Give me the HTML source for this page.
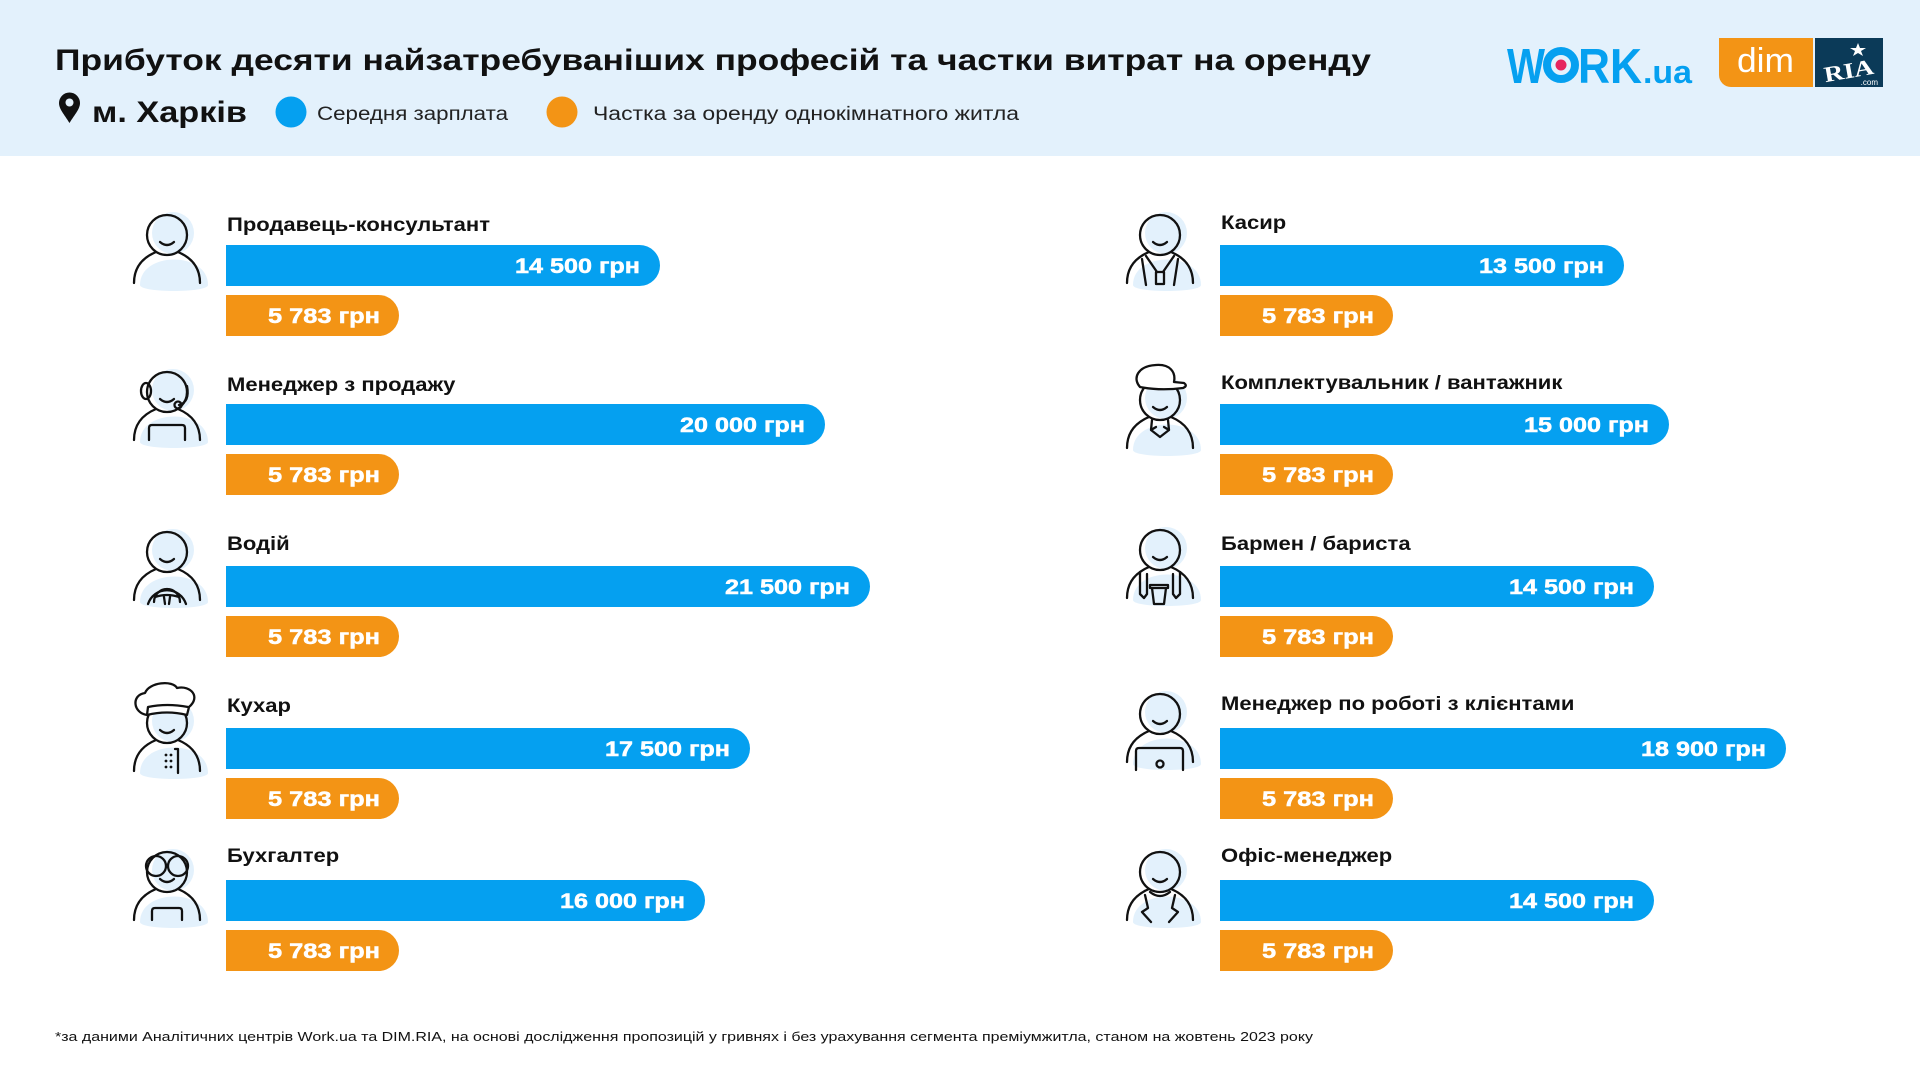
<!DOCTYPE html>
<html><head><meta charset="utf-8"><style>
html,body{margin:0;padding:0;background:#fff;}
svg{display:block;}
text{font-family:"Liberation Sans","Noto Sans CJK SC",sans-serif;}
</style></head><body>
<svg width="1920" height="1080" viewBox="0 0 1920 1080" xmlns="http://www.w3.org/2000/svg">
<defs>
<g id="pb">
 <circle cx="6" cy="-2" r="21" fill="#E3F1FC"/>
 <path d="M-27,50 C-27,16 41,16 41,50 C41,58 -27,58 -27,50Z" fill="#E3F1FC"/>
 <g fill="none" stroke="#111" stroke-width="2.3" stroke-linecap="round" stroke-linejoin="round">
  <circle r="20"/>
  <path d="M-7,7 Q0,13 7,7"/>
  <path d="M-33,48 C-33,31 -23,22 -11,17 M33,48 C33,31 23,22 11,17"/>
 </g>
</g>
</defs>
<rect x="0" y="0" width="1920" height="156" fill="#E3F1FC"/>
<text x="55" y="70" font-size="30" font-weight="bold" fill="#111" textLength="1316" lengthAdjust="spacingAndGlyphs">Прибуток десяти найзатребуваніших професій та частки витрат на оренду</text>
<path d="M69.5,123 C64,114 59,109 59,103 A10.5,10.5 0 0 1 80,103 C80,109 75,114 69.5,123Z" fill="#111"/>
<circle cx="69.5" cy="102.5" r="4" fill="#E3F1FC"/>
<text x="92" y="122" font-size="30" font-weight="bold" fill="#111" textLength="155" lengthAdjust="spacingAndGlyphs">м. Харків</text>
<circle cx="291" cy="112" r="15.5" fill="#05A0F0"/>
<text x="317" y="120" font-size="19" fill="#222" textLength="191" lengthAdjust="spacingAndGlyphs">Середня зарплата</text>
<circle cx="562" cy="112" r="15.5" fill="#F39415"/>
<text x="593" y="120" font-size="19" fill="#222" textLength="426" lengthAdjust="spacingAndGlyphs">Частка за оренду однокімнатного житла</text>
<!-- logos -->
<text x="1507" y="83" font-size="49" font-weight="bold" fill="#05A0F0" textLength="38" lengthAdjust="spacingAndGlyphs">W</text>
<circle cx="1561" cy="65" r="14" fill="none" stroke="#05A0F0" stroke-width="8"/>
<circle cx="1561" cy="65" r="5.5" fill="#E6245E"/>
<text x="1578" y="83" font-size="49" font-weight="bold" fill="#05A0F0" textLength="64" lengthAdjust="spacingAndGlyphs">RK</text>
<text x="1643" y="83" font-size="32" font-weight="bold" fill="#05A0F0" textLength="49" lengthAdjust="spacingAndGlyphs">.ua</text>
<path d="M1719,38 H1813 V87 H1731 A12,12 0 0 1 1719,75 Z" fill="#F39415"/>
<text x="1737" y="72" font-size="34" fill="#fff" textLength="57" lengthAdjust="spacingAndGlyphs">dim</text>
<rect x="1815" y="38" width="68" height="49" fill="#0B3A58"/>
<text x="1849" y="78" font-size="22" font-weight="bold" fill="#fff" text-anchor="middle" style="font-family:'Liberation Serif',serif" transform="rotate(-10 1849 72)" textLength="50" lengthAdjust="spacingAndGlyphs">RIA</text>
<polygon points="1858,43 1860,48 1866,48 1861,51 1863,56 1858,53 1853,56 1855,51 1850,48 1856,48" fill="#fff"/>
<text x="1878" y="85" font-size="8" fill="#fff" text-anchor="end">.com</text>

<!-- bars left -->
<g>
<path d="M226,245 H639.5 A20.5,20.5 0 0 1 639.5,286 H226Z" fill="#05A0F0"/>
<path d="M226,295 H378.5 A20.5,20.5 0 0 1 378.5,336 H226Z" fill="#F39415"/>
<path d="M226,404 H804.5 A20.5,20.5 0 0 1 804.5,445 H226Z" fill="#05A0F0"/>
<path d="M226,454 H378.5 A20.5,20.5 0 0 1 378.5,495 H226Z" fill="#F39415"/>
<path d="M226,566 H849.5 A20.5,20.5 0 0 1 849.5,607 H226Z" fill="#05A0F0"/>
<path d="M226,616 H378.5 A20.5,20.5 0 0 1 378.5,657 H226Z" fill="#F39415"/>
<path d="M226,728 H729.5 A20.5,20.5 0 0 1 729.5,769 H226Z" fill="#05A0F0"/>
<path d="M226,778 H378.5 A20.5,20.5 0 0 1 378.5,819 H226Z" fill="#F39415"/>
<path d="M226,880 H684.5 A20.5,20.5 0 0 1 684.5,921 H226Z" fill="#05A0F0"/>
<path d="M226,930 H378.5 A20.5,20.5 0 0 1 378.5,971 H226Z" fill="#F39415"/>
</g>
<!-- bars right -->
<g>
<path d="M1220,245 H1603.5 A20.5,20.5 0 0 1 1603.5,286 H1220Z" fill="#05A0F0"/>
<path d="M1220,295 H1372.5 A20.5,20.5 0 0 1 1372.5,336 H1220Z" fill="#F39415"/>
<path d="M1220,404 H1648.5 A20.5,20.5 0 0 1 1648.5,445 H1220Z" fill="#05A0F0"/>
<path d="M1220,454 H1372.5 A20.5,20.5 0 0 1 1372.5,495 H1220Z" fill="#F39415"/>
<path d="M1220,566 H1633.5 A20.5,20.5 0 0 1 1633.5,607 H1220Z" fill="#05A0F0"/>
<path d="M1220,616 H1372.5 A20.5,20.5 0 0 1 1372.5,657 H1220Z" fill="#F39415"/>
<path d="M1220,728 H1765.5 A20.5,20.5 0 0 1 1765.5,769 H1220Z" fill="#05A0F0"/>
<path d="M1220,778 H1372.5 A20.5,20.5 0 0 1 1372.5,819 H1220Z" fill="#F39415"/>
<path d="M1220,880 H1633.5 A20.5,20.5 0 0 1 1633.5,921 H1220Z" fill="#05A0F0"/>
<path d="M1220,930 H1372.5 A20.5,20.5 0 0 1 1372.5,971 H1220Z" fill="#F39415"/>
</g>

<!-- bar values -->
<g font-size="21" font-weight="bold" fill="#fff" stroke="#fff" stroke-width="0.5" text-anchor="end">
<text x="640" y="273" textLength="125" lengthAdjust="spacingAndGlyphs">14 500 грн</text>
<text x="380" y="323" textLength="112" lengthAdjust="spacingAndGlyphs">5 783 грн</text>
<text x="805" y="432" textLength="125" lengthAdjust="spacingAndGlyphs">20 000 грн</text>
<text x="380" y="482" textLength="112" lengthAdjust="spacingAndGlyphs">5 783 грн</text>
<text x="850" y="594" textLength="125" lengthAdjust="spacingAndGlyphs">21 500 грн</text>
<text x="380" y="644" textLength="112" lengthAdjust="spacingAndGlyphs">5 783 грн</text>
<text x="730" y="756" textLength="125" lengthAdjust="spacingAndGlyphs">17 500 грн</text>
<text x="380" y="806" textLength="112" lengthAdjust="spacingAndGlyphs">5 783 грн</text>
<text x="685" y="908" textLength="125" lengthAdjust="spacingAndGlyphs">16 000 грн</text>
<text x="380" y="958" textLength="112" lengthAdjust="spacingAndGlyphs">5 783 грн</text>

<text x="1604" y="273" textLength="125" lengthAdjust="spacingAndGlyphs">13 500 грн</text>
<text x="1374" y="323" textLength="112" lengthAdjust="spacingAndGlyphs">5 783 грн</text>
<text x="1649" y="432" textLength="125" lengthAdjust="spacingAndGlyphs">15 000 грн</text>
<text x="1374" y="482" textLength="112" lengthAdjust="spacingAndGlyphs">5 783 грн</text>
<text x="1634" y="594" textLength="125" lengthAdjust="spacingAndGlyphs">14 500 грн</text>
<text x="1374" y="644" textLength="112" lengthAdjust="spacingAndGlyphs">5 783 грн</text>
<text x="1766" y="756" textLength="125" lengthAdjust="spacingAndGlyphs">18 900 грн</text>
<text x="1374" y="806" textLength="112" lengthAdjust="spacingAndGlyphs">5 783 грн</text>
<text x="1634" y="908" textLength="125" lengthAdjust="spacingAndGlyphs">14 500 грн</text>
<text x="1374" y="958" textLength="112" lengthAdjust="spacingAndGlyphs">5 783 грн</text>
</g>

<!-- labels -->
<g font-size="19" font-weight="bold" fill="#111">
<text transform="translate(227,231) scale(1.16,1)">Продавець-консультант</text>
<text transform="translate(227,391) scale(1.16,1)">Менеджер з продажу</text>
<text transform="translate(227,550) scale(1.16,1)">Водій</text>
<text transform="translate(227,712) scale(1.16,1)">Кухар</text>
<text transform="translate(227,862) scale(1.16,1)">Бухгалтер</text>
<text transform="translate(1221,229) scale(1.16,1)">Касир</text>
<text transform="translate(1221,389) scale(1.16,1)">Комплектувальник / вантажник</text>
<text transform="translate(1221,550) scale(1.16,1)">Бармен / бариста</text>
<text transform="translate(1221,710) scale(1.16,1)">Менеджер по роботі з клієнтами</text>
<text transform="translate(1221,862) scale(1.16,1)">Офіс-менеджер</text>
</g>

<!-- icons left -->
<g transform="translate(167,235)"><use href="#pb"/></g>

<g transform="translate(167,392)"><use href="#pb"/>
 <g fill="none" stroke="#111" stroke-width="2.3" stroke-linecap="round" stroke-linejoin="round">
  <ellipse cx="-21" cy="-1" rx="5" ry="8"/>
  <path d="M20,-6 Q23,10 12,13"/>
  <circle cx="11" cy="13" r="3.5"/>
  <path d="M-18,48 V36 Q-18,33 -15,33 H15 Q18,33 18,36 V48"/>
 </g>
</g>

<g transform="translate(167,552)"><use href="#pb"/>
 <g fill="none" stroke="#111" stroke-width="2.3" stroke-linecap="round" stroke-linejoin="round">
  <path d="M-19,52 A20,20 0 0 1 19,52"/>
  <path d="M-13,50 A13,13 0 0 1 13,50"/>
  <path d="M-12,45 Q0,41 12,45 M-3,45 L-2,52 M3,45 L2,52"/>
 </g>
</g>

<g transform="translate(167,723)"><use href="#pb"/>
 <g fill="#fff" stroke="#111" stroke-width="2.3" stroke-linecap="round" stroke-linejoin="round">
  <path d="M-20,-8 C-34,-10 -36,-28 -22,-30 C-18,-41 6,-43 10,-35 C24,-38 34,-26 22,-16 L20,-8 Q0,-13 -20,-8Z"/>
  <path d="M-20,-8 L-19,-16 Q0,-20 21,-16" fill="none"/>
  <path d="M8,26 H11 V50" fill="none"/>
 </g>
 <g fill="#111">
  <circle cx="-1" cy="32" r="1.4"/><circle cx="4" cy="32" r="1.4"/>
  <circle cx="-1" cy="38" r="1.4"/><circle cx="4" cy="38" r="1.4"/>
  <circle cx="-1" cy="44" r="1.4"/><circle cx="4" cy="44" r="1.4"/>
 </g>
</g>

<g transform="translate(167,872)"><use href="#pb"/>
 <g fill="none" stroke="#111" stroke-width="2.3" stroke-linecap="round" stroke-linejoin="round">
  <circle cx="-11" cy="-6" r="10"/>
  <circle cx="11" cy="-6" r="10"/>
  <path d="M-15,48 V39 Q-15,36 -12,36 H12 Q15,36 15,39 V48"/>
 </g>
</g>

<!-- icons right -->
<g transform="translate(1160,235)"><use href="#pb"/>
 <g fill="none" stroke="#111" stroke-width="2.3" stroke-linecap="round" stroke-linejoin="round">
  <path d="M-14,21 L-3,37 M14,21 L3,37"/>
  <rect x="-4" y="37" width="8" height="12"/>
  <path d="M-18,24 L-14,50 M18,24 L14,50"/>
 </g>
</g>

<g transform="translate(1160,400)"><use href="#pb"/>
 <g fill="#fff" stroke="#111" stroke-width="2.3" stroke-linecap="round" stroke-linejoin="round">
  <path d="M-20,-13 C-28,-22 -22,-34 -4,-35 C10,-36 16,-28 14,-18 L24,-17 Q28,-14 23,-12 Q0,-9 -20,-13Z"/>
  <path d="M-8,20 L-9,30 L0,37 L9,30 L8,20 M-9,30 L-4,27 M9,30 L4,27" fill="none"/>
 </g>
</g>

<g transform="translate(1160,550)"><use href="#pb"/>
 <g fill="none" stroke="#111" stroke-width="2.3" stroke-linecap="round" stroke-linejoin="round">
  <path d="M-20,22 L-20,44 L-16,48 L-13,44 L-13,24"/>
  <path d="M20,22 L20,44 L16,48 L13,44 L13,24"/>
  <path d="M-8,38 L-6,54 L4,54 L6,38"/>
  <path d="M-10,35 H8 V38 H-10Z"/>
 </g>
</g>

<g transform="translate(1160,714)"><use href="#pb"/>
 <g fill="none" stroke="#111" stroke-width="2.3" stroke-linecap="round" stroke-linejoin="round">
  <path d="M-24,56 V37 Q-24,34 -21,34 H20 Q23,34 23,37 V56"/>
  <circle cx="0" cy="50" r="3.5"/>
 </g>
</g>

<g transform="translate(1160,872)"><use href="#pb"/>
 <g fill="none" stroke="#111" stroke-width="2.3" stroke-linecap="round" stroke-linejoin="round">
  <path d="M-10,20 Q0,28 10,20"/>
  <path d="M-15,23 L-12,36 L-18,40 L-9,50"/>
  <path d="M15,23 L12,36 L18,40 L9,50"/>
 </g>
</g>

<text x="55" y="1041" font-size="13" fill="#111" textLength="1258" lengthAdjust="spacingAndGlyphs">*за даними Аналітичних центрів Work.ua та DIM.RIA, на основі дослідження пропозицій у гривнях і без урахування сегмента преміумжитла, станом на жовтень 2023 року</text>
</svg>
</body></html>
